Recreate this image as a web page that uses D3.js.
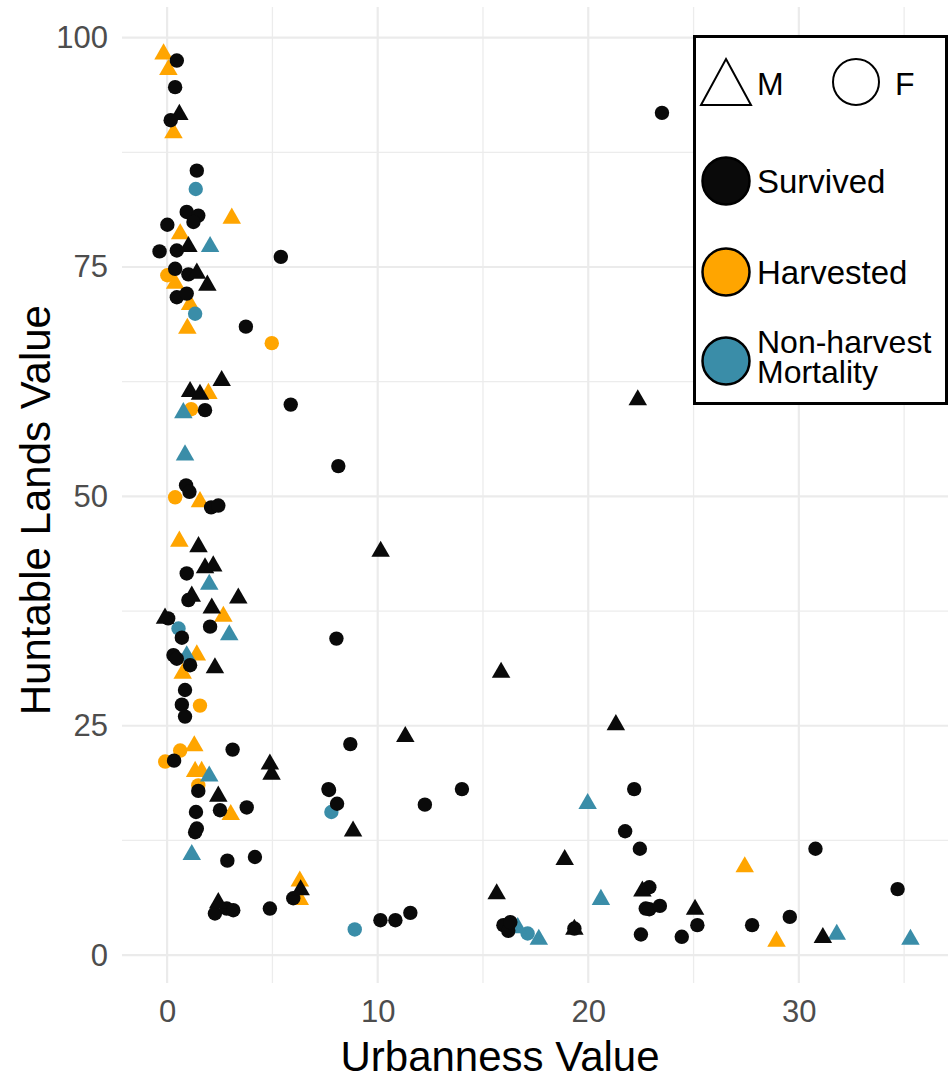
<!DOCTYPE html>
<html>
<head>
<meta charset="utf-8">
<script src="https://cdn.jsdelivr.net/npm/d3@7"></script>
<style>
  html, body { margin: 0; padding: 0; background: #fff; }
  svg { display: block; }
  text { font-family: "Liberation Sans", Arial, Helvetica, sans-serif; }
</style>
</head>
<body>
<svg id="chart" width="950" height="1080"></svg>
<script>
// ---- data: [urbanness, huntable lands] ----
const survivedF = [
  [0.46,97.5],[0.38,94.6],[0.17,91.0],[1.41,85.5],[0.93,81.0],[1.48,80.6],[1.25,79.9],[0.01,79.6],
  [-0.36,76.7],[0.46,76.8],[0.38,74.8],[1.01,74.2],[0.46,71.7],[0.93,72.1],[3.74,68.5],[5.4,76.1],
  [5.87,60.0],[8.13,53.3],[23.5,91.8],[1.8,59.4],[0.9,51.2],[1.06,50.5],[2.09,48.8],[2.43,49.0],
  [0.93,41.6],[1.01,38.7],[0.05,36.7],[2.04,35.8],[0.7,34.6],[0.3,32.7],[0.46,32.3],[1.09,31.6],
  [0.85,28.9],[0.7,27.3],[0.85,26.0],[3.11,22.4],[0.33,21.2],[1.48,17.9],[7.69,18.0],[1.37,15.6],
  [2.51,15.8],[3.78,16.1],[1.33,13.4],[1.41,13.8],[2.86,10.3],[4.17,10.7],[5.99,6.2],[2.27,4.54],
  [2.83,5.08],[3.14,4.9],[4.88,5.08],[8.04,34.5],[8.7,23.0],[7.66,18.1],[8.07,16.5],[12.24,16.4],
  [14.0,18.1],[22.18,18.1],[21.75,13.5],[22.45,11.6],[22.73,5.08],[10.13,3.81],[10.84,3.81],[11.55,4.61],
  [15.97,3.27],[16.2,2.65],[16.3,3.6],[19.34,2.9],[22.5,2.25],[30.79,11.6],[34.69,7.2],[22.9,7.4],
  [22.9,5.0],[23.4,5.37],[25.18,3.27],[27.78,3.27],[29.57,4.17],[24.44,2.0]
];
const survivedM = [
  [0.58,91.9],[1.01,77.5],[1.41,74.6],[1.91,73.3],[2.59,62.9],[1.09,61.7],[1.56,61.4],[1.49,44.8],
  [1.8,42.5],[2.19,42.7],[1.17,39.4],[3.38,39.2],[2.12,38.1],[-0.1,37.0],[2.27,31.6],[4.88,21.1],
  [4.96,20.0],[2.43,17.6],[6.34,7.4],[2.43,6.0],[10.14,44.3],[15.86,31.1],[21.31,25.4],[11.31,24.1],
  [8.83,13.8],[18.88,10.7],[15.65,6.97],[22.57,7.26],[19.34,3.1],[25.07,5.27],[31.14,2.2],[22.35,60.8]
];
const harvestedM = [
  [-0.17,98.5],[0.06,96.8],[0.3,89.9],[3.07,80.6],[0.62,78.9],[0.38,73.5],[1.09,71.2],[0.96,68.6],
  [1.96,61.5],[1.56,49.7],[0.58,45.4],[2.67,37.2],[1.41,33.0],[0.74,31.0],[1.29,23.1],[1.33,20.3],
  [1.64,20.3],[3.02,15.6],[6.3,8.35],[6.3,6.35],[27.43,9.9],[28.94,1.8]
];
const harvestedF = [
  [0.01,74.1],[4.97,66.7],[1.14,59.5],[0.38,49.9],[1.56,27.2],[0.62,22.3],[-0.09,21.1],[1.48,18.5]
];
const mortalityM = [
  [2.04,77.5],[0.77,59.4],[0.85,54.8],[2.0,40.7],[2.95,35.2],[0.93,32.9],[2.0,19.8],[1.17,11.25],
  [19.97,16.8],[20.6,6.35],[16.65,3.27],[17.65,2.0],[31.8,2.55],[35.3,2.0]
];
const mortalityF = [
  [1.36,83.5],[1.33,69.9],[0.54,35.6],[7.8,15.6],[8.91,2.8],[17.12,2.36]
];

const xMajor = [0, 10, 20, 30];
const xMinor = [5, 15, 25, 35];
const yMajor = [0, 25, 50, 75, 100];
const yMinor = [12.5, 37.5, 62.5, 87.5];
const statusLabels = ["Survived", "Harvested", "Non-harvest\nMortality"];
const statusColors = ["#0a0a0a", "#FFA500", "#3a8da8"];
const sexLabels = ["M", "F"];

// ---- layout ----
const svg = d3.select("#chart");
const panel = { left: 122, right: 948, top: 7, bottom: 983 };

const all = [].concat(survivedF, survivedM, harvestedM, harvestedF, mortalityM, mortalityF);
const xExt = d3.extent(all, d => d[0]);
const yExt = d3.extent(all, d => d[1]);
const xPad = (xExt[1] - xExt[0]) * 0.05, yPad = (yExt[1] - yExt[0]) * 0.05;

const x = d3.scaleLinear().domain([xExt[0] - xPad, xExt[1] + xPad]).range([panel.left, panel.right]);
const y = d3.scaleLinear().domain([yExt[0] - yPad, yExt[1] + yPad]).range([panel.bottom, panel.top]);

// grid
const grid = svg.append("g");
grid.selectAll(".xmin").data(xMinor).join("line")
  .attr("x1", d => x(d)).attr("x2", d => x(d)).attr("y1", panel.top).attr("y2", panel.bottom)
  .attr("stroke", "#ececec").attr("stroke-width", 1.3);
grid.selectAll(".ymin").data(yMinor).join("line")
  .attr("y1", d => y(d)).attr("y2", d => y(d)).attr("x1", panel.left).attr("x2", panel.right)
  .attr("stroke", "#ececec").attr("stroke-width", 1.3);
grid.selectAll(".xmaj").data(xMajor).join("line")
  .attr("x1", d => x(d)).attr("x2", d => x(d)).attr("y1", panel.top).attr("y2", panel.bottom)
  .attr("stroke", "#ebebeb").attr("stroke-width", 2.2);
grid.selectAll(".ymaj").data(yMajor).join("line")
  .attr("y1", d => y(d)).attr("y2", d => y(d)).attr("x1", panel.left).attr("x2", panel.right)
  .attr("stroke", "#ebebeb").attr("stroke-width", 2.2);

// axes (labels only)
const xAxis = d3.axisBottom(x).tickValues(xMajor).tickSize(0).tickPadding(0);
const yAxis = d3.axisLeft(y).tickValues(yMajor).tickSize(0).tickPadding(0);
const gx = svg.append("g").attr("transform", `translate(0,${panel.bottom + 12})`).call(xAxis);
const gy = svg.append("g").attr("transform", `translate(${panel.left - 14},0)`).call(yAxis);
[gx, gy].forEach(g => {
  g.select(".domain").remove();
  g.selectAll("text").attr("fill", "#4d4d4d").style("font-size", "31px")
    .style("font-family", '"Liberation Sans", Arial, sans-serif');
});
gx.selectAll("text").attr("dy", "0.88em");

// axis titles
svg.append("text").attr("x", 500).attr("y", 1071)
  .attr("text-anchor", "middle").style("font-size", "42px").attr("fill", "#000")
  .text("Urbanness Value");
svg.append("text").attr("transform", `translate(50,${y(48.5)}) rotate(-90)`)
  .attr("text-anchor", "middle").style("font-size", "42px").attr("fill", "#000")
  .text("Huntable Lands Value");

// points
const triPath = (s) => {
  const w = s, h = s * 0.87;
  return `M0,${-h/2}L${w/2},${h/2}L${-w/2},${h/2}Z`;
};
const layers = [
  { d: harvestedF, shape: "c", col: statusColors[1] },
  { d: harvestedM, shape: "t", col: statusColors[1] },
  { d: mortalityF, shape: "c", col: statusColors[2] },
  { d: mortalityM, shape: "t", col: statusColors[2] },
  { d: survivedF, shape: "c", col: statusColors[0] },
  { d: survivedM, shape: "t", col: statusColors[0] }
];
const pts = svg.append("g");
layers.forEach(L => {
  if (L.shape === "c") {
    pts.append("g").selectAll("circle").data(L.d).join("circle")
      .attr("cx", d => x(d[0])).attr("cy", d => y(d[1])).attr("r", 7.2)
      .attr("fill", L.col);
  } else {
    pts.append("g").selectAll("path").data(L.d).join("path")
      .attr("transform", d => `translate(${x(d[0])},${y(d[1])})`)
      .attr("d", triPath(18.5)).attr("fill", L.col);
  }
});

// legend
const lg = svg.append("g");
lg.append("rect").attr("x", 694.5).attr("y", 36.5).attr("width", 252).attr("height", 367)
  .attr("fill", "#fff").attr("stroke", "#000").attr("stroke-width", 3);
lg.append("path").attr("d", "M726,59L751,105L701,105Z").attr("fill", "#fff")
  .attr("stroke", "#000").attr("stroke-width", 2);
lg.append("text").attr("x", 757).attr("y", 95).style("font-size", "32px").text(sexLabels[0]);
lg.append("circle").attr("cx", 856).attr("cy", 82).attr("r", 23).attr("fill", "#fff")
  .attr("stroke", "#000").attr("stroke-width", 2);
lg.append("text").attr("x", 895).attr("y", 95).style("font-size", "32px").text(sexLabels[1]);

const legY = [181, 272, 361];
statusLabels.forEach((lab, i) => {
  lg.append("circle").attr("cx", 726).attr("cy", legY[i]).attr("r", 23.5)
    .attr("fill", statusColors[i]).attr("stroke", "#000").attr("stroke-width", 2.5);
  const lines = lab.split("\n");
  if (lines.length === 1) {
    lg.append("text").attr("x", 757).attr("y", legY[i] + 12)
      .style("font-size", "33px").attr("fill", "#000").text(lab);
  } else {
    const t = lg.append("text").attr("x", 757).style("font-size", "32px").attr("fill", "#000");
    lines.forEach((ln, j) => {
      t.append("tspan").attr("x", 757).attr("y", legY[i] - 8 + j * 30).text(ln);
    });
  }
});
</script>
</body>
</html>
